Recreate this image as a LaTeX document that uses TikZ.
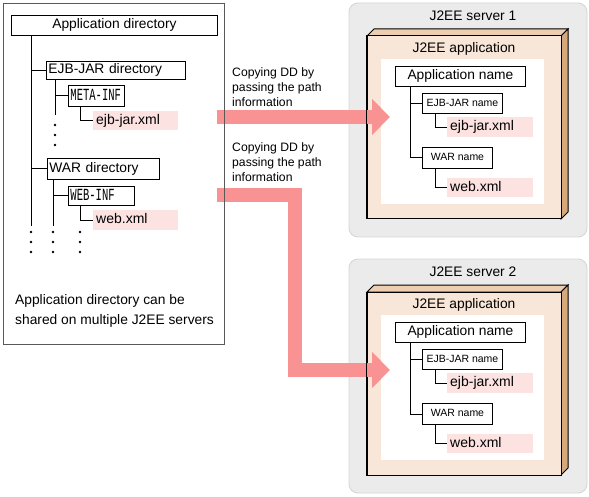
\documentclass[tikz,border=0pt]{standalone}
\usepackage{fontspec}
\setmainfont{Liberation Sans}
\newfontfamily\condmono[FakeStretch=0.62]{Liberation Mono}
\usepackage{tikz}
\usetikzlibrary{arrows.meta,positioning}
\definecolor{xmlpink}{RGB}{253,226,226}
\definecolor{copypink}{RGB}{249,146,146}
\definecolor{srvgray}{RGB}{235,235,235}
\definecolor{srvedge}{RGB}{214,214,214}
\definecolor{appfront}{RGB}{248,231,216}
\definecolor{apptop}{RGB}{238,206,176}
\definecolor{appside}{RGB}{214,168,122}

\begin{document}
\begin{tikzpicture}[x=1pt,y=-1pt,
                    every node/.style={inner sep=0pt},
                    bigfont/.style={font=\fontsize{13.8}{16}\selectfont},
                    dirbox/.style={draw=black,fill=white,line width=0.9pt,anchor=north west,
                                   inner xsep=2pt,text height=10pt,text depth=3pt,bigfont},
                    smallbox/.style={dirbox,font=\fontsize{10.5}{12}\selectfont,text height=8pt,text depth=2pt},
                    monobox/.style={dirbox,font=\condmono\fontsize{17}{18}\selectfont,text height=11pt,text depth=2pt},
                    xmlbox/.style={fill=xmlpink,anchor=north west,align=left,inner xsep=3pt,
                                   font=\fontsize{14}{16}\selectfont,text height=10pt,text depth=3pt},
                    tree/.style={draw=black,line width=0.9pt},
                    dot/.style={circle,fill=black,minimum size=2.8pt},
                    copytext/.style={anchor=north west,align=left,font=\fontsize{12.2}{15}\selectfont},
                    copyarrow/.style={draw=copypink,line width=14pt,line join=miter,
                                      -{Triangle[width=35pt,length=18pt]}},
                    frame/.style={draw=black!65,line width=0.9pt,minimum width=221pt,minimum height=341pt},
                    server/.style={fill=srvgray,draw=srvedge,line width=0.9pt,rounded corners=9pt,
                                   minimum width=238pt,minimum height=234pt},
                    appbox/.style={fill=appfront,draw=black,line width=1pt,minimum width=194pt,minimum height=183pt}
                ]
    \useasboundingbox (0,0) rectangle (589,497);

    % shared application directory
    \node[frame] (dirarea) at (113.5,173.5) {};
    \node[dirbox,minimum width=206pt,minimum height=20pt] (appdir) at (11,15) {Application directory};
    \node[dirbox,align=left,text width=135pt,minimum height=18pt] (ejbdir) at (46,61) {EJB-JAR directory};
    \node[monobox,align=left,text width=52pt,minimum height=21pt] (meta) at (68,85) {\mbox{META-INF}};
    \node[xmlbox,text width=79pt,minimum height=19pt] (ejbxml) at (93,111) {ejb-jar.xml};
    \node[dirbox,align=left,text width=108pt,minimum height=21pt] (wardir) at (47,158) {WAR directory};
    \node[monobox,align=left,text width=62pt,minimum height=19pt] (webinf) at (68,186) {\mbox{WEB-INF}};
    \node[xmlbox,text width=79pt,minimum height=20pt] (webxml) at (93,210) {web.xml};

    \coordinate (trunk) at (31,226);
    \coordinate (ejbtrunk) at (55,115);
    \coordinate (wartrunk) at (53,226);
    \draw[tree] (appdir.south -| trunk) -- (trunk);
    \draw[tree] (ejbdir.west -| trunk) -- (ejbdir.west);
    \draw[tree] (wardir.west -| trunk) -- (wardir.west);
    \draw[tree] (ejbdir.south -| ejbtrunk) -- (ejbtrunk);
    \draw[tree] (meta.west -| ejbtrunk) -- (meta.west);
    \draw[tree] ([xshift=12pt]meta.south west) |- (ejbxml.west);
    \draw[tree] (wardir.south -| wartrunk) -- (wartrunk);
    \draw[tree] (webinf.west -| wartrunk) -- (webinf.west);
    \draw[tree] ([xshift=12pt]webinf.south west) |- (webxml.west);

    \foreach \y in {125,135,145}
        \node[dot] (ejbdot\y) at (55,\y) {};
    \foreach \x in {31,53,80}
        {
        \foreach \y in {232,242,252}
            \node[dot] (dot\x-\y) at (\x,\y) {};
        }

    \node[anchor=north west,align=left,bigfont] (shared) at (15,294)
        {Application directory can be\\[4pt]shared on multiple J2EE servers};

    \node[copytext] (copy1) at (232,67) {Copying DD by\\passing the path\\information};
    \node[copytext] (copy2) at (232,142) {Copying DD by\\passing the path\\information};

    % the two J2EE servers
    \foreach \s/\dy in {1/0,2/256}
        {
        \node[server] (srv\s) at (468,120+\dy) {};
        \node[bigfont] (srvname\s) at (473,16+\dy) {J2EE server \s};
        \filldraw[fill=apptop,line width=1pt] (367,36+\dy) -- (374,29+\dy) -- (568,29+\dy) -- (561,36+\dy) -- cycle;
        \filldraw[fill=appside,line width=1pt] (561,36+\dy) -- (568,29+\dy) -- (568,212+\dy) -- (561,219+\dy) -- cycle;
        \node[appbox] (app\s) at (464,127.5+\dy) {};
        \node[bigfont] (apptitle\s) at (464,49+\dy) {J2EE application};
        \node[fill=white,minimum width=163pt,minimum height=145pt] (inner\s) at (462.5,131.5+\dy) {};
        \node[dirbox,minimum width=130pt,minimum height=20pt] (appname\s) at (395,66+\dy) {Application name};
        \node[smallbox,minimum width=80pt,minimum height=20pt] (ejbname\s) at (422,93+\dy) {EJB-JAR name};
        \node[smallbox,minimum width=70pt,minimum height=21pt] (warname\s) at (422,147+\dy) {WAR name};
        \node[xmlbox,text width=80pt,minimum height=20pt] (ejbjar\s) at (447,117+\dy) {ejb-jar.xml};
        \node[xmlbox,text width=80pt,minimum height=19pt] (webxml\s) at (447,178+\dy) {web.xml};
        \draw[tree] ([xshift=15pt]appname\s.south west) |- (ejbname\s.west);
        \draw[tree] ([xshift=15pt]appname\s.south west) |- (warname\s.west);
        \draw[tree] ([xshift=13pt]ejbname\s.south west) |- (ejbjar\s.west);
        \draw[tree] ([xshift=13pt]warname\s.south west) |- (webxml\s.west);
        }

    % copying the deployment descriptors
    \coordinate (src1) at (217,117);
    \coordinate (dst1) at (390,117);
    \coordinate (src2) at (217,195);
    \coordinate (turn2) at (295,370);
    \coordinate (dst2) at (390,370);
    \draw[copyarrow] (src1) -- (dst1);
    \draw[copyarrow] (src2) -| (turn2) -- (dst2);

    % edges that show through the arrows
    \draw[draw=black!65,line width=0.9pt] (dirarea.north east) -- (dirarea.south east);
    \foreach \s in {1,2}
        \draw[line width=1pt] (app\s.north west) -- (app\s.south west);
\end{tikzpicture}
\end{document}
